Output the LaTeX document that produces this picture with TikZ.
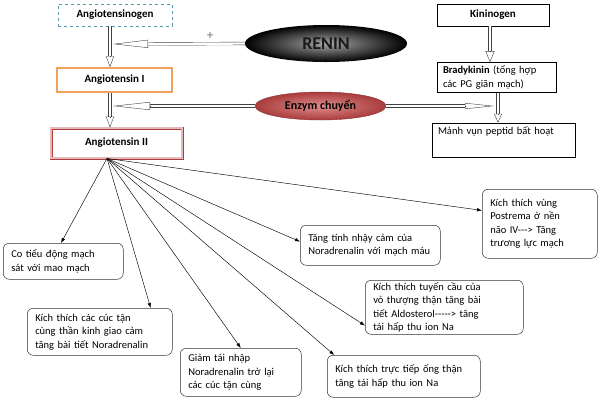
\documentclass[tikz,border=0pt]{standalone}
\usepackage{fontspec}
\setmainfont{Carlito}
\usetikzlibrary{shapes.geometric,arrows.meta,calc,positioning}
\definecolor{dashteal}{RGB}{86,153,170}
\definecolor{angorange}{RGB}{242,160,90}
\definecolor{angred}{RGB}{175,60,60}
\definecolor{enzlight}{RGB}{222,140,140}
\definecolor{enzdark}{RGB}{170,60,60}

% block arrow: double shaft and open head
\newcommand{\hollowarrow}[4][8pt]{%
  \draw[shaft] (#2) -- ($(#3)!#4!(#2)$);
  \draw[hollowhead={#4}{#1}] ($(#3)!#4!(#2)$) -- (#3);}

\begin{document}
\begin{tikzpicture}[x=1pt, y=-1pt,
    font=\fontsize{10.5}{13.5}\selectfont,
    topbox/.style={rectangle, draw, minimum height=22pt, inner sep=2pt, font=\fontsize{11}{13.5}\selectfont\bfseries},
    effbox/.style={rectangle, draw=black!80, line width=0.5pt, rounded corners=6pt, align=left, inner xsep=8pt, inner ysep=2pt, anchor=north west},
    fanarrow/.style={-{Latex[length=5pt,width=3.5pt]}, line width=0.45pt},
    shaft/.style={draw=black!75, line width=0.4pt, double=white, double distance=2.4pt},
    hollowhead/.style 2 args={-{Triangle[open,length=#1,width=#2]}, draw=black!75, line width=0.4pt}
]
\useasboundingbox[fill=white] (0,0) rectangle (600,400);

% Renin - angiotensin chain
\node[topbox, draw=dashteal, dashed, minimum width=114pt] (agen) at (115,15) {Angiotensinogen};
\node[topbox, draw=angorange, line width=1.5pt, minimum width=115pt, minimum height=24pt] (a1) at (114.5,80) {Angiotensin I};
\node[topbox, draw=angred, double=angred!35, line width=0.9pt, double distance=1.2pt, minimum width=131pt, minimum height=30pt] (a2) at (116.5,143) {Angiotensin II};

% Enzymes
\node[ellipse, inner color=gray!70, outer color=black, minimum width=162pt, minimum height=37pt, font=\fontsize{18}{20}\selectfont\bfseries, text=black!90] (renin) at (326,43.5) {RENIN};
\node[ellipse, draw=enzdark!80!black, line width=0.4pt, inner color=enzlight, outer color=enzdark, minimum width=131pt, minimum height=28pt, font=\fontsize{12}{14}\selectfont\bfseries] (enz) at (320.5,106) {Enzym chuyển};
\node[text=black!55, font=\fontsize{13}{14}\selectfont] (plus) at (210,36) {+};

% Kinin chain
\node[topbox, minimum width=112pt, line width=0.5pt] (kin) at (493,15) {Kininogen};
\node[rectangle, draw, line width=0.5pt, text width=107pt, inner xsep=6pt, minimum height=29pt, align=left] (brady) at (496.5,77.5) {\textbf{Bradykinin} (tổng hợp\\các PG giãn mạch)};
\node[rectangle, draw, line width=0.5pt, text width=131pt, inner xsep=6pt, inner ysep=3pt, text height=8pt, text depth=20pt, align=left] (manh) at (503.5,140) {Mảnh vụn peptid bất hoạt};

% Effects of angiotensin II
\node[effbox, text width=104pt, minimum height=36pt] (b1) at (3,243) {Co tiểu động mạch\\sát với mao mạch};
\node[effbox, text width=129pt, minimum height=47pt] (b2) at (27,308) {Kích thích các cúc tận\\cùng thần kinh giao cảm\\tăng bài tiết Noradrenalin};
\node[effbox, text width=105pt, minimum height=48pt] (b3) at (180,348) {Giảm tái nhập\\Noradrenalin trở lại\\các cúc tận cùng};
\node[effbox, text width=124pt, minimum height=40pt] (b4) at (300,225) {Tăng tính nhậy cảm của\\Noradrenalin với mạch máu};
\node[effbox, text width=99pt, minimum height=69pt] (b5) at (482,189) {Kích thích vùng\\Postrema ở nền\\não IV-{}-{}-> Tăng\\trương lực mạch};
\node[effbox, text width=142pt, minimum height=53pt] (b6) at (365,280) {Kích thích tuyến cầu của\\vỏ thượng thận tăng bài\\tiết Aldosterol-{}-{}-{}-{}-> tăng\\tái hấp thu ion Na};
\node[effbox, text width=137pt, minimum height=42pt] (b7) at (327,355) {Kích thích trực tiếp ống thận\\tăng tái hấp thu ion Na};

% Block arrows
\coordinate (agenout) at ($(agen.south)+(-5,0)$);
\coordinate (a1in) at ($(a1.north)+(-4.5,0)$);
\coordinate (a1out) at ($(a1.south)+(-4.5,0)$);
\coordinate (a2in) at ($(a2.north)+(-6.5,0)$);
\coordinate (reninend) at (113,44);
\coordinate (enzleft) at (113,106);
\coordinate (enzright) at (494,106);
\coordinate (kinout) at ($(kin.south)+(-3,0)$);
\coordinate (bradyin) at ($(brady.north)+(-6.5,0)$);
\coordinate (bradyout) at ($(brady.south)+(1.5,0)$);
\coordinate (manhin) at ($(manh.north)+(-5.5,0)$);

\hollowarrow{agenout}{a1in}{11pt}
\hollowarrow{a1out}{a2in}{11pt}
\hollowarrow{renin.west}{reninend}{35pt}
\hollowarrow{enz.west}{enzleft}{37pt}
\hollowarrow[6pt]{enz.east}{enzright}{29pt}
\hollowarrow[9pt]{kinout}{bradyin}{11pt}
\hollowarrow{bradyout}{manhin}{9pt}

% Fan of arrows
\coordinate (fan) at ($(a2.south)+(-9.5,0)$);
\foreach \target in {b1.97, b2.25, b3.north, b7.163, b6.193, b4.177, b5.167}
  \draw[fanarrow] (fan) -- (\target);

\end{tikzpicture}
\end{document}
